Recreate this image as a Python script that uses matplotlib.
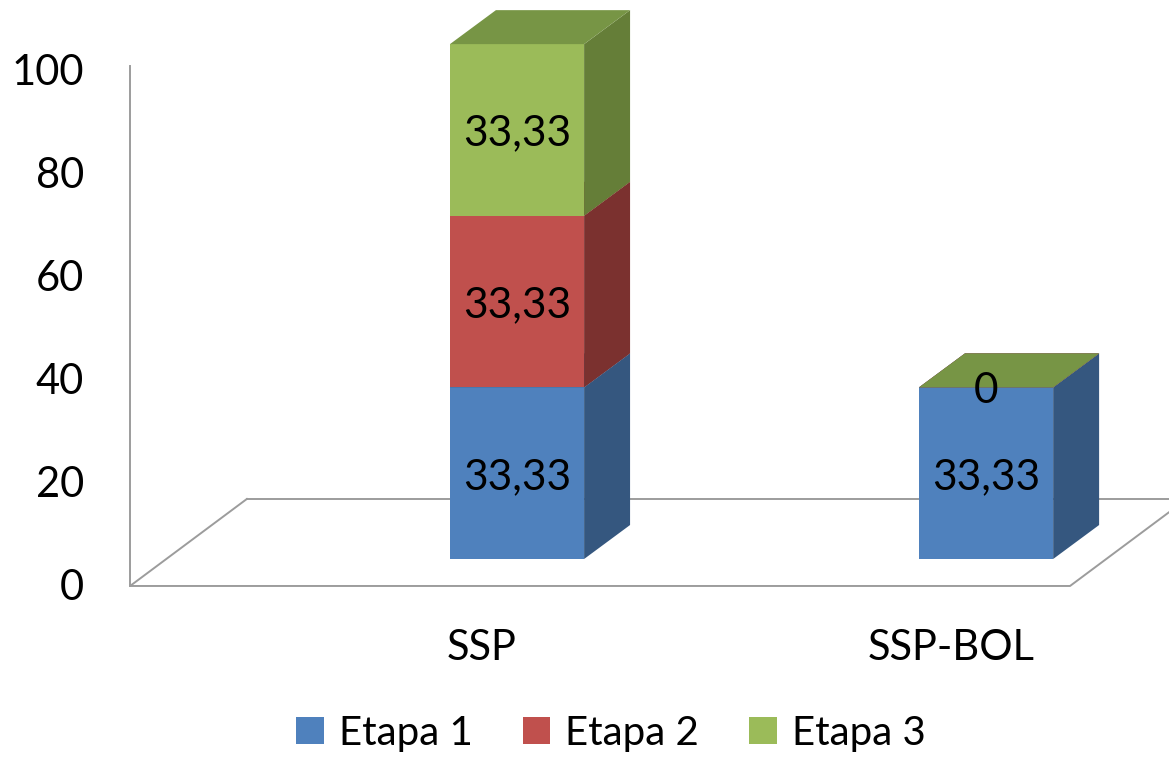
import matplotlib.pyplot as plt
from matplotlib.patches import Polygon, Patch

plt.rcParams['font.family'] = ['Lato', 'DejaVu Sans']

categories = ['SSP', 'SSP-BOL']
series = ['Etapa 1', 'Etapa 2', 'Etapa 3']
etapa1 = [33.33, 33.33]
etapa2 = [33.33, 0]
etapa3 = [33.33, 0]
labels1 = ['33,33', '33,33']
labels2 = ['33,33', None]
labels3 = ['33,33', '0']
yticks = [0, 20, 40, 60, 80, 100]

front = ['#4F81BD', '#C0504D', '#9BBB59']
side = ['#35577F', '#7B312F', '#657E38']
top = ['#3F6797', '#9A3E3B', '#779545']
grid_col = '#9c9c9c'

# oblique 3d look, in data units (x: category, y: value)
w = 0.286
dx, dy = 0.098, 6.6
base = 5.24

fig = plt.figure(figsize=(11.69, 7.59), dpi=100)
ax = fig.add_axes([0, 0, 1, 1])
ax.set_xlim(-1.1023, 1.390)
ax.set_ylim(-33.6, 113.8)
ax.axis('off')

# floor and value axis
ax.plot([-0.825, -0.825], [0, 100.9], color=grid_col, lw=1.4, zorder=1)
ax.plot([-0.576, -0.825, 1.179, 1.428], [16.9, 0, 0, 16.9], color=grid_col, lw=1.4, zorder=1)
ax.plot([-0.576, 1.5], [16.9, 16.9], color=grid_col, lw=1.4, zorder=1)

for v in yticks:
    ax.text(-0.923, v - 0.4, str(v), ha='right', va='center', fontsize=30)

stack = [etapa1, etapa2, etapa3]
texts = [labels1, labels2, labels3]
for i, cat in enumerate(categories):
    b = base
    for s in range(3):
        h = stack[s][i]
        t = b + h
        l, r = i - w / 2, i + w / 2
        ax.add_patch(Polygon([(l, b), (r, b), (r, t), (l, t)], closed=True,
                             facecolor=front[s], edgecolor='none', zorder=3))
        ax.add_patch(Polygon([(r, b), (r + dx, b + dy), (r + dx, t + dy), (r, t)], closed=True,
                             facecolor=side[s], edgecolor='none', zorder=3))
        ax.add_patch(Polygon([(l, t), (l + dx, t + dy), (r + dx, t + dy), (r, t)], closed=True,
                             facecolor=top[s], edgecolor='none', zorder=3))
        if texts[s][i] is not None:
            ax.text(i, b + h / 2 - 0.7, texts[s][i], ha='center', va='center',
                    fontsize=30.5, zorder=5)
        b = t
    ax.text(i - 0.075, -12.0, cat, ha='center', va='center', fontsize=30)

handles = [Patch(facecolor=front[s], edgecolor='none', label=series[s]) for s in range(3)]
fig.legend(handles=handles, loc='center', bbox_to_anchor=(611 / 1169, 1 - 733 / 759),
           ncol=3, frameon=False, fontsize=29, handlelength=0.675, handleheight=0.675,
           handletextpad=0.375, columnspacing=1.25)

fig.savefig('out.png', dpi=100)
